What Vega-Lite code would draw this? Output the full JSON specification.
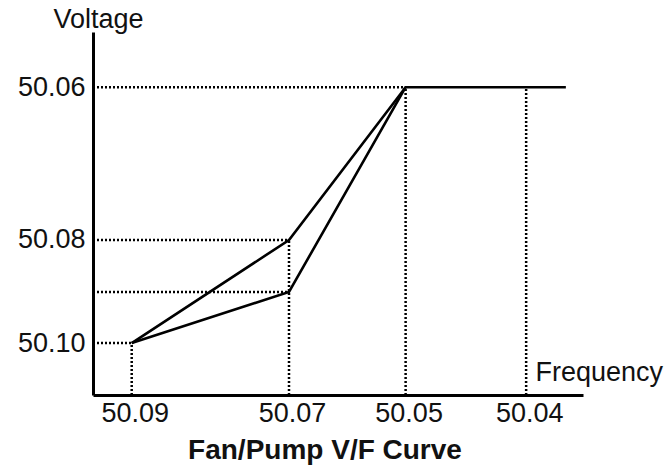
{
  "$schema": "https://vega.github.io/schema/vega-lite/v6.json",
  "width": 490,
  "height": 363,
  "autosize": {"type": "none"},
  "padding": {"left": 93, "top": 32, "right": 88, "bottom": 75},
  "background": "white",
  "config": {
    "view": {"stroke": null},
    "font": "Liberation Sans",
    "axis": {
      "grid": false,
      "ticks": false,
      "domainColor": "#000000",
      "domainWidth": 3,
      "labelFont": "Liberation Sans",
      "labelFontSize": 27,
      "labelColor": "#111111",
      "titleFont": "Liberation Sans",
      "titleFontSize": 27,
      "titleFontWeight": "normal",
      "titleColor": "#111111"
    }
  },
  "title": {
    "text": "Fan/Pump V/F Curve",
    "orient": "bottom",
    "anchor": "middle",
    "font": "Liberation Sans",
    "fontSize": 28,
    "fontWeight": "bold",
    "color": "#111111",
    "offset": 11,
    "dx": -13
  },
  "datasets": {
    "guides": [
      {"x1": 0, "x2": 63.8, "y1": 84.8, "y2": 84.8},
      {"x1": 0, "x2": 40, "y1": 42.7, "y2": 42.7},
      {"x1": 0, "x2": 40, "y1": 28.4, "y2": 28.4},
      {"x1": 0, "x2": 7.9, "y1": 14.3, "y2": 14.3},
      {"x1": 7.9, "x2": 7.9, "y1": 0, "y2": 14.3},
      {"x1": 40, "x2": 40, "y1": 0, "y2": 42.7},
      {"x1": 63.8, "x2": 63.8, "y1": 0, "y2": 84.8},
      {"x1": 88.4, "x2": 88.4, "y1": 0, "y2": 84.8}
    ],
    "curves": [
      {"curve": "A", "order": 1, "f": 7.9, "v": 14.3},
      {"curve": "A", "order": 2, "f": 40, "v": 42.7},
      {"curve": "A", "order": 3, "f": 63.8, "v": 84.8},
      {"curve": "A", "order": 4, "f": 96.5, "v": 84.8},
      {"curve": "B", "order": 1, "f": 7.9, "v": 14.3},
      {"curve": "B", "order": 2, "f": 40, "v": 28.4},
      {"curve": "B", "order": 3, "f": 63.8, "v": 84.8}
    ]
  },
  "layer": [
    {
      "data": {"name": "guides"},
      "mark": {"type": "rule", "color": "#000000", "strokeWidth": 2.5, "strokeDash": [2, 2]},
      "encoding": {
        "x": {
          "field": "x1",
          "type": "quantitative",
          "scale": {"domain": [0, 100], "nice": false, "zero": false},
          "axis": {
            "values": [7.9, 40, 63.8, 88.4],
            "labelExpr": "datum.value == 7.9 ? '50.09' : datum.value == 40 ? '50.07' : datum.value == 63.8 ? '50.05' : '50.04'",
            "labelPadding": 5,
            "labelOffset": 3,
            "title": "Frequency",
            "titleAnchor": "start",
            "titleAlign": "left",
            "titleBaseline": "alphabetic",
            "titleX": 442,
            "titleY": -15
          }
        },
        "x2": {"field": "x2"},
        "y": {
          "field": "y1",
          "type": "quantitative",
          "scale": {"domain": [0, 100], "nice": false, "zero": false},
          "axis": {
            "values": [14.3, 42.7, 84.8],
            "labelExpr": "datum.value == 84.8 ? '50.06' : datum.value == 42.7 ? '50.08' : '50.10'",
            "labelPadding": 8,
            "title": "Voltage",
            "titleAngle": 0,
            "titleAlign": "center",
            "titleBaseline": "alphabetic",
            "titleX": 5,
            "titleY": -5
          }
        },
        "y2": {"field": "y2"}
      }
    },
    {
      "data": {"name": "curves"},
      "mark": {"type": "line", "color": "#000000", "strokeWidth": 2.6, "strokeJoin": "miter"},
      "encoding": {
        "x": {"field": "f", "type": "quantitative"},
        "y": {"field": "v", "type": "quantitative"},
        "detail": {"field": "curve"},
        "order": {"field": "order"}
      }
    }
  ]
}
